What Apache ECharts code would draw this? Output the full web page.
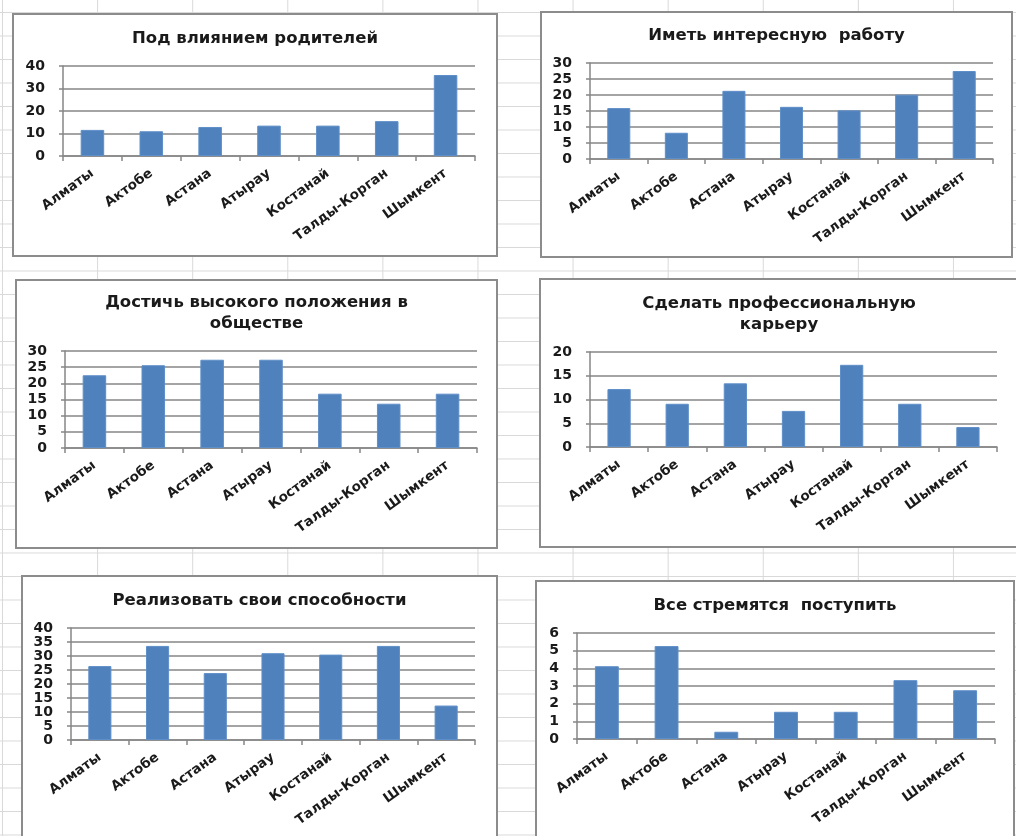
<!DOCTYPE html>
<html><head><meta charset="utf-8">
<script src="https://cdn.jsdelivr.net/npm/echarts@6/dist/echarts.min.js"></script>
<style>
html,body{margin:0;padding:0;width:1016px;height:836px;overflow:hidden;background:#fff;}
#bg{position:absolute;left:0;top:0;width:1016px;height:836px;
background-image:linear-gradient(to right,#d9d9d9 1px,transparent 1px),linear-gradient(to bottom,#d9d9d9 1px,transparent 1px);
background-size:95.1px 23.5px;background-position:2px 12px;}
.box{position:absolute;background:#fff;border:2px solid #8c8c8c;box-sizing:border-box;overflow:hidden;}
.box .c{position:absolute;left:0;top:0;}
</style></head>
<body>
<div id="bg"></div>
<script>
// ---- data ----
const cities = ['Алматы','Актобе','Астана','Атырау','Костанай','Талды-Корган','Шымкент'];
const parentsInfluence = [11.6, 11.0, 12.9, 13.5, 13.5, 15.5, 36.0];
const interestingJob   = [15.9, 8.2, 21.3, 16.3, 15.2, 20.1, 27.5];
const highPosition     = [22.5, 25.6, 27.3, 27.3, 16.8, 13.7, 16.8];
const career           = [12.2, 9.1, 13.4, 7.6, 17.3, 9.1, 4.2];
const abilities        = [26.4, 33.6, 23.9, 31.0, 30.5, 33.6, 12.3];
const allStrive        = [4.12, 5.26, 0.41, 1.54, 1.54, 3.33, 2.76];
const titles = ['Под влиянием родителей','Иметь интересную  работу','Достичь высокого положения в\nобществе','Сделать профессиональную\nкарьеру','Реализовать свои способности','Все стремятся  поступить'];
const yMax = [40, 30, 30, 20, 40, 6];
const yStep = [10, 5, 5, 5, 5, 1];

// ---- layout ----
const panels = [
  {box:[12,13,486,244], titleTop:8, grid:[49,51,412,90], data:parentsInfluence},
  {box:[540,11,473,247], titleTop:7, grid:[48,50,403,96], data:interestingJob},
  {box:[15,279,483,270], titleTop:6, grid:[48,70,412,97], data:highPosition},
  {box:[539,278,480,270], titleTop:8, grid:[49,72,407,95], data:career},
  {box:[21,575,477,300], titleTop:8, grid:[48,51,404,112], data:abilities},
  {box:[535,580,480,300], titleTop:8, grid:[40,51,418,106], data:allStrive}
];
const FONT = 'DejaVu Sans';
const AX = '#868686';

panels.forEach((p, i) => {
  const box = document.createElement('div');
  box.className = 'box';
  box.style.left = p.box[0]+'px'; box.style.top = p.box[1]+'px';
  box.style.width = p.box[2]+'px'; box.style.height = p.box[3]+'px';
  const c = document.createElement('div');
  c.className = 'c';
  c.style.width = (p.box[2]-4)+'px'; c.style.height = (p.box[3]-4)+'px';
  box.appendChild(c);
  document.body.appendChild(box);
  const chart = echarts.init(c, null, {renderer:'canvas'});
  chart.setOption({
    animation:false,
    title:{text:titles[i], left:'center', top:p.titleTop,
      textStyle:{fontFamily:FONT, fontWeight:'bold', fontSize:16.5, color:'#1a1a1a', lineHeight:21}},
    grid:{left:p.grid[0], top:p.grid[1], width:p.grid[2], height:p.grid[3], containLabel:false},
    xAxis:{type:'category', data:cities,
      axisLine:{lineStyle:{color:AX, width:1.5}},
      axisTick:{show:true, length:5, lineStyle:{color:AX, width:1.5}},
      axisLabel:{rotate:36, interval:0, margin:16, fontFamily:FONT, fontWeight:'bold', fontSize:13.5, color:'#1a1a1a'}},
    yAxis:{type:'value', min:0, max:yMax[i], interval:yStep[i],
      axisLine:{show:true, lineStyle:{color:AX, width:1.5}},
      axisTick:{show:true, length:4, lineStyle:{color:AX, width:1.5}},
      splitLine:{lineStyle:{color:AX, width:1.5}},
      axisLabel:{margin:18, fontFamily:FONT, fontWeight:'bold', fontSize:14, color:'#1a1a1a'}},
    series:[{type:'bar', data:p.data, barWidth:'40%',
      itemStyle:{color:'#4f81bd', borderColor:'#5f8fc8', borderWidth:1}}]
  });
});
</script>
</body></html>
